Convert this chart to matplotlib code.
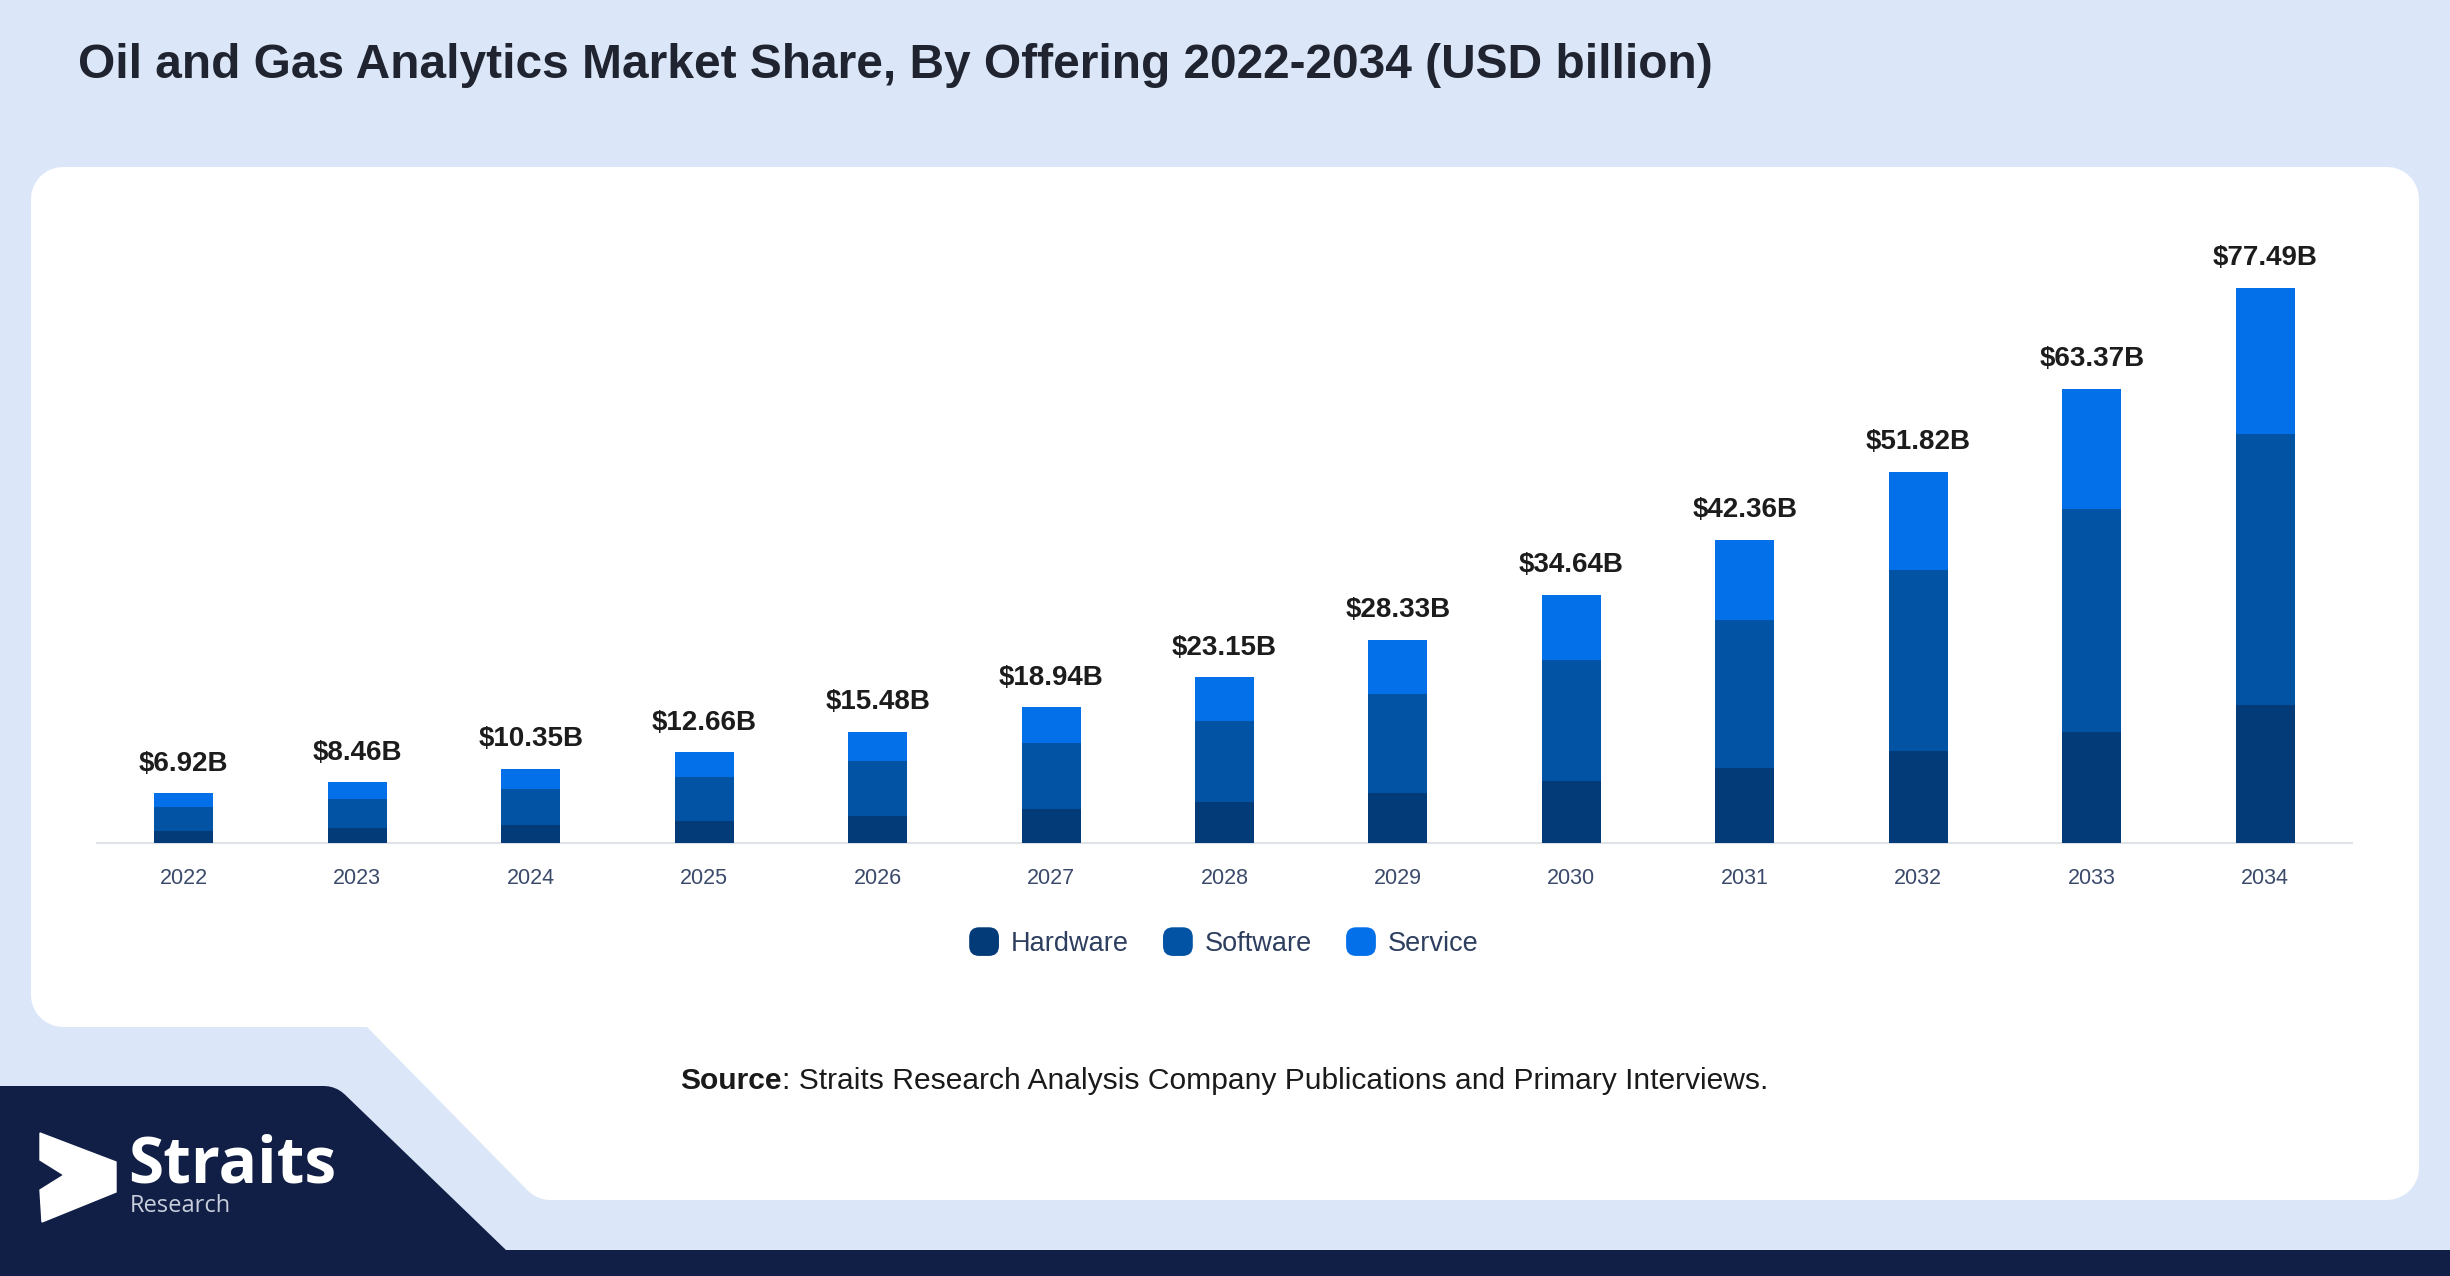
import matplotlib
matplotlib.use('Agg')
import matplotlib.pyplot as plt
import numpy as np
from matplotlib.patches import Polygon, FancyBboxPatch
from matplotlib.legend_handler import HandlerPatch
from matplotlib.patches import Patch

plt.rcParams['font.family'] = ['Liberation Sans', 'DejaVu Sans']

W, H = 2450, 1276

years = ['2022', '2023', '2024', '2025', '2026', '2027', '2028',
         '2029', '2030', '2031', '2032', '2033', '2034']
hardware = [1.72, 2.14, 2.51, 3.07, 3.77, 4.75, 5.68, 7.04, 8.60, 10.51, 12.83, 15.54, 19.20]
software = [3.35, 4.05, 5.07, 6.19, 7.63, 9.21, 11.31, 13.83, 16.90, 20.67, 25.29, 31.10, 37.85]
service = [1.85, 2.27, 2.77, 3.40, 4.08, 4.98, 6.16, 7.46, 9.14, 11.18, 13.70, 16.73, 20.44]
totals = [6.92, 8.46, 10.35, 12.66, 15.48, 18.94, 23.15, 28.33, 34.64, 42.36, 51.82, 63.37, 77.49]
series_names = ['Hardware', 'Software', 'Service']
colors = ['#033a78', '#0353a4', '#0370ea']

title = 'Oil and Gas Analytics Market Share, By Offering 2022-2034 (USD billion)'


def inset(pts, d):
    # move each edge of the polygon inward by d (pixel units)
    pts = np.asarray(pts, float)
    n = len(pts)
    area = 0.5 * sum(pts[i][0] * pts[(i + 1) % n][1] - pts[(i + 1) % n][0] * pts[i][1] for i in range(n))
    sign = 1 if area > 0 else -1
    out = []
    for i in range(n):
        p0, p1, p2 = pts[i - 1], pts[i], pts[(i + 1) % n]
        ln = []
        for a, b in ((p0, p1), (p1, p2)):
            t = (b - a) / np.linalg.norm(b - a)
            nrm = np.array([-t[1], t[0]]) * sign
            ln.append((a + nrm * d, t))
        (a1, t1), (a2, t2) = ln
        m = np.array([t1, -t2]).T
        s = np.linalg.solve(m, a2 - a1)
        out.append(a1 + s[0] * t1)
    return np.array(out)


def rounded_shape(ax, pts, r, color):
    ipts = inset(pts, r)
    ax.add_patch(Polygon(ipts, closed=True, fc=color, ec=color,
                         lw=2 * r * 0.72, joinstyle='round', zorder=1))


class RoundHandler(HandlerPatch):
    def create_artists(self, legend, orig_handle, xdescent, ydescent,
                       width, height, fontsize, trans):
        p = FancyBboxPatch((-xdescent, -ydescent), width, height,
                           boxstyle='round,pad=0,rounding_size=%f' % (height * 0.35),
                           fc=orig_handle.get_facecolor(), ec='none', transform=trans)
        return [p]


fig = plt.figure(figsize=(W / 100, H / 100), dpi=100)
fig.patch.set_facecolor('#dbe7f8')

bg = fig.add_axes([0, 0, 1, 1])
bg.set_xlim(0, W)
bg.set_ylim(H, 0)
bg.axis('off')

# white card and navy footer
rounded_shape(bg, [(31, 167), (2419, 167), (2419, 1200), (537, 1200), (367, 1027), (31, 1027)], 32, 'white')
rounded_shape(bg, [(-60, 1086), (336, 1086), (506, 1250), (2520, 1250), (2520, 1330), (-60, 1330)], 30, '#111f46')

bg.text(78, 66, title, fontsize=34.5, fontweight='bold', ha='left', va='center', color='#1f2430')

# logo
arrow = [(40, 1133), (116, 1162), (116, 1192), (42, 1222), (40, 1190), (64, 1175), (40, 1160)]
bg.add_patch(Polygon(arrow, closed=True, fc='white', ec='white', lw=1, zorder=3))
bg.text(128, 1166, 'Straits', fontsize=46, fontweight='bold', color='white',
        family=['Open Sans', 'DejaVu Sans'], ha='left', va='center', zorder=3)
bg.text(130, 1206, 'Research', fontsize=17, color='#c8cedb',
        family=['Open Sans', 'DejaVu Sans'], ha='left', va='center', zorder=3)

# chart
ymax = 90
px_per_b = 7.162
ax = fig.add_axes([97 / W, 1 - 843 / H, (2352 - 97) / W, ymax * px_per_b / H])
ax.set_facecolor('none')
x = np.arange(len(years))
bw = 0.34
bottom = np.zeros(len(years))
for vals, c in zip([hardware, software, service], colors):
    ax.bar(x, vals, bw, bottom=bottom, color=c, zorder=3)
    bottom += np.array(vals)

for xi, t in zip(x, totals):
    ax.annotate(f'${t:.2f}B', (xi, t), xytext=(0, 12), textcoords='offset points',
                ha='center', va='bottom', fontsize=20, fontweight='bold', color='#1c1c1c')

ax.set_xlim(-0.5, len(years) - 0.5)
ax.set_ylim(0, ymax)
ax.set_xticks(x, years)
ax.set_yticks([])
ax.tick_params(axis='x', length=0, pad=18, labelsize=15.5, labelcolor='#3b4a6b')
for s in ['top', 'right', 'left']:
    ax.spines[s].set_visible(False)
ax.spines['bottom'].set_color('#dfe3e8')
ax.spines['bottom'].set_linewidth(1.5)

handles = [Patch(facecolor=c, label=n) for c, n in zip(colors, series_names)]
leg = fig.legend(handles=handles, loc='center', bbox_to_anchor=(1224 / W, 1 - 942 / H),
                 ncol=3, frameon=False, fontsize=19.5, handlelength=1.1, handleheight=1.25,
                 handletextpad=0.45, columnspacing=1.25,
                 handler_map={Patch: RoundHandler()})
for t in leg.get_texts():
    t.set_color('#2d3e5e')

# source line, bold prefix + regular rest, centred
fig.canvas.draw()
r = fig.canvas.get_renderer()
t1 = bg.text(0, 1081, 'Source', fontsize=21.6, fontweight='bold', ha='left', va='center', color='#1a1a1a')
t2 = bg.text(0, 1081, ': Straits Research Analysis Company Publications and Primary Interviews.',
             fontsize=21.6, ha='left', va='center', color='#1a1a1a')
w1 = t1.get_window_extent(r).width
w2 = t2.get_window_extent(r).width
x0 = 1224 - (w1 + w2) / 2
t1.set_x(x0)
t2.set_x(x0 + w1)

fig.savefig('out.png', dpi=100, facecolor=fig.get_facecolor())
